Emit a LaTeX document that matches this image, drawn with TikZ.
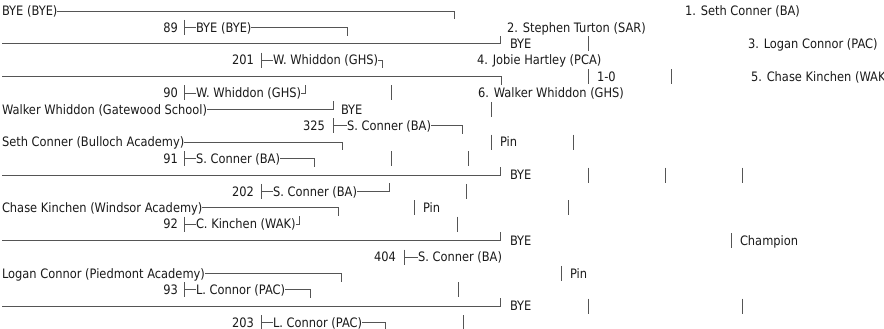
\documentclass[tikz,border=0pt]{standalone}
\usepackage{fontspec}
\setmainfont{DejaVu Sans}[FakeStretch=0.88]
\definecolor{txtcol}{HTML}{1A1A1A}
\definecolor{lncol}{HTML}{555555}
\newcommand\bkTxt[4]{\node[lbl] (#1) at (#2,#3+4.7) {#4};}
\newcommand\bkNum[4]{\node[num] (#1) at (#2,#3+4.7) {#4};}
\newcommand\bkBar[3]{\coordinate (#1) at (#2,#3); \draw[ln] ([yshift=7.5pt]#1) -- ([yshift=-7.5pt]#1);}
\newcommand\bkTee[3]{\coordinate (#1tee) at (#2,#3); \draw[ln] ([yshift=7.5pt]#1tee) -- ([yshift=-7.5pt]#1tee); \draw[ln] (#1tee) -- ([yshift=4.7pt]#1.base west);}
\newcommand\bkEnd[1]{([yshift=4.7pt]#1.base east)}
\begin{document}
\begin{tikzpicture}[x=1pt,y=-1pt,
  lbl/.style={anchor=base west,inner sep=0pt,outer sep=0pt,font=\fontsize{13}{15}\selectfont,text=txtcol},
  num/.style={lbl,anchor=base east},
  ln/.style={draw=lncol,line width=0.9pt}]
\clip (0,0) rectangle (884,329);
% Row 1
\bkTxt{a1}{2}{11}{BYE (BYE)}
\coordinate (k1) at (454,11);
\draw[ln] \bkEnd{a1} -- (k1) -- ++(0,8.2);
\bkTxt{r1}{685}{11}{1. Seth Conner (BA)}
% Row 2
\bkNum{n89}{178}{27.4}{89}
\bkTxt{a2}{196}{27.4}{BYE (BYE)}
\bkTee{a2}{184}{27.4}
\coordinate (k2) at (347,27.4);
\draw[ln] \bkEnd{a2} -- (k2) -- ++(0,8.2);
\bkTxt{r2}{507}{27.4}{2. Stephen Turton (SAR)}
% Row 3
\coordinate (s3) at (2,43.8); \coordinate (k3) at (500,43.8);
\draw[ln] (s3) -- (k3) -- ++(0,-8.2);
\bkTxt{b3}{510}{43.8}{BYE}
\bkBar{v3a}{588}{43.8}
\bkTxt{r3}{748}{43.8}{3. Logan Connor (PAC)}
% Row 4
\bkNum{n201}{254}{60.2}{201}
\bkTxt{a4}{273}{60.2}{W. Whiddon (GHS)}
\bkTee{a4}{261}{60.2}
\draw[ln] \bkEnd{a4} -- ++(4,0) -- ++(0,8.2);
\bkTxt{r4}{477}{60.2}{4. Jobie Hartley (PCA)}
% Row 5
\coordinate (s5) at (2,76.6); \coordinate (k5) at (501,76.6);
\draw[ln] (s5) -- (k5) -- ++(0,8.2);
\bkBar{v5a}{588}{76.6}
\bkTxt{p5}{597}{76.6}{1-0}
\bkBar{v5b}{671}{76.6}
\bkTxt{r5}{751}{76.6}{5. Chase Kinchen (WAK}
% Row 6
\bkNum{n90}{178}{93}{90}
\bkTxt{a6}{196}{93}{W. Whiddon (GHS)}
\bkTee{a6}{184}{93}
\draw[ln] \bkEnd{a6} -- ++(4,0) -- ++(0,-8.2);
\bkBar{v6a}{391}{93}
\bkTxt{r6}{478}{93}{6. Walker Whiddon (GHS)}
% Row 7
\bkTxt{a7}{2}{109.4}{Walker Whiddon (Gatewood School)}
\coordinate (k7) at (333,109.4);
\draw[ln] \bkEnd{a7} -- (k7) -- ++(0,-8.2);
\bkTxt{b7}{341}{109.4}{BYE}
\bkBar{v7a}{491}{109.4}
% Row 8
\bkNum{n325}{325}{125.8}{325}
\bkTxt{a8}{347}{125.8}{S. Conner (BA)}
\bkTee{a8}{333}{125.8}
\coordinate (k8) at (462,125.8);
\draw[ln] \bkEnd{a8} -- (k8) -- ++(0,8.2);
% Row 9
\bkTxt{a9}{2}{142.2}{Seth Conner (Bulloch Academy)}
\coordinate (k9) at (342,142.2);
\draw[ln] \bkEnd{a9} -- (k9) -- ++(0,8.2);
\bkBar{v9a}{491}{142.2}
\bkTxt{p9}{500}{142.2}{Pin}
\bkBar{v9b}{573}{142.2}
% Row 10
\bkNum{n91}{178}{158.6}{91}
\bkTxt{a10}{196}{158.6}{S. Conner (BA)}
\bkTee{a10}{184}{158.6}
\coordinate (k10) at (314,158.6);
\draw[ln] \bkEnd{a10} -- (k10) -- ++(0,8.2);
\bkBar{v10a}{391}{158.6}
\bkBar{v10b}{468}{158.6}
% Row 11
\coordinate (s11) at (2,175); \coordinate (k11) at (500,175);
\draw[ln] (s11) -- (k11) -- ++(0,-8.2);
\bkTxt{b11}{510}{175}{BYE}
\bkBar{v11a}{588}{175}
\bkBar{v11b}{665}{175}
\bkBar{v11c}{742}{175}
% Row 12
\bkNum{n202}{254}{191.4}{202}
\bkTxt{a12}{273}{191.4}{S. Conner (BA)}
\bkTee{a12}{261}{191.4}
\coordinate (k12) at (389,191.4);
\draw[ln] \bkEnd{a12} -- (k12) -- ++(0,-8.2);
\bkBar{v12a}{466}{191.4}
% Row 13
\bkTxt{a13}{2}{207.8}{Chase Kinchen (Windsor Academy)}
\coordinate (k13) at (338,207.8);
\draw[ln] \bkEnd{a13} -- (k13) -- ++(0,8.2);
\bkBar{v13a}{414}{207.8}
\bkTxt{p13}{423}{207.8}{Pin}
\bkBar{v13b}{568}{207.8}
% Row 14
\bkNum{n92}{178}{224.2}{92}
\bkTxt{a14}{196}{224.2}{C. Kinchen (WAK)}
\bkTee{a14}{184}{224.2}
\draw[ln] \bkEnd{a14} -- ++(4,0) -- ++(0,-8.2);
\bkBar{v14a}{457}{224.2}
% Row 15
\coordinate (s15) at (2,240.6); \coordinate (k15) at (500,240.6);
\draw[ln] (s15) -- (k15) -- ++(0,-8.2);
\bkTxt{b15}{510}{240.6}{BYE}
\bkBar{v15a}{731}{240.6}
\bkTxt{p15}{740}{240.6}{Champion}
% Row 16
\bkNum{n404}{396}{257}{404}
\bkTxt{a16}{418}{257}{S. Conner (BA)}
\bkTee{a16}{404}{257}
% Row 17
\bkTxt{a17}{2}{273.4}{Logan Connor (Piedmont Academy)}
\coordinate (k17) at (341,273.4);
\draw[ln] \bkEnd{a17} -- (k17) -- ++(0,8.2);
\bkBar{v17a}{561}{273.4}
\bkTxt{p17}{570}{273.4}{Pin}
% Row 18
\bkNum{n93}{178}{289.8}{93}
\bkTxt{a18}{196}{289.8}{L. Connor (PAC)}
\bkTee{a18}{184}{289.8}
\coordinate (k18) at (310,289.8);
\draw[ln] \bkEnd{a18} -- (k18) -- ++(0,8.2);
\bkBar{v18a}{458}{289.8}
% Row 19
\coordinate (s19) at (2,306.2); \coordinate (k19) at (500,306.2);
\draw[ln] (s19) -- (k19) -- ++(0,-8.2);
\bkTxt{b19}{510}{306.2}{BYE}
\bkBar{v19a}{588}{306.2}
\bkBar{v19b}{742}{306.2}
% Row 20
\bkNum{n203}{254}{322.6}{203}
\bkTxt{a20}{273}{322.6}{L. Connor (PAC)}
\bkTee{a20}{261}{322.6}
\coordinate (k20) at (385,322.6);
\draw[ln] \bkEnd{a20} -- (k20) -- ++(0,8.2);
\bkBar{v20a}{463}{322.6}
\end{tikzpicture}
\end{document}
